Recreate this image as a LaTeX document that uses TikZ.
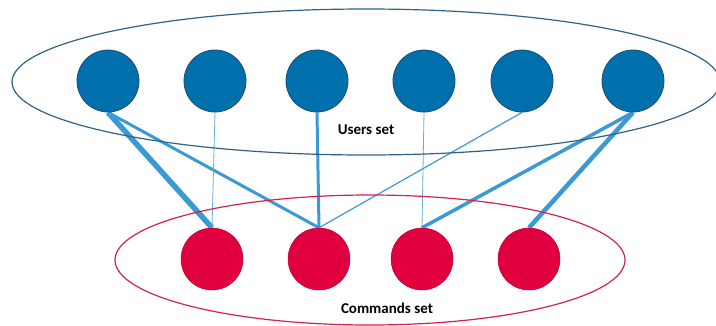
\documentclass[tikz,border=0pt]{standalone}
\usepackage{fontspec}
\setmainfont{Carlito}
\usetikzlibrary{backgrounds}
\definecolor{userblue}{HTML}{0070AC}
\definecolor{userrim}{HTML}{1F4E6E}
\definecolor{cmdred}{HTML}{E0003F}
\definecolor{linkblue}{HTML}{3B9AD6}
\definecolor{setline}{HTML}{2E6288}
\definecolor{setred}{HTML}{D2234E}

\begin{document}
\begin{tikzpicture}[
    x=1pt, y=-1pt,
    user/.style={circle, fill=userblue, draw=userrim, line width=0.8pt, minimum size=62pt, inner sep=0pt},
    cmd/.style={circle, fill=cmdred, draw=cmdred!85!black, line width=0.5pt, minimum size=62pt, inner sep=0pt},
    link/.style={draw=linkblue, line width=#1},
    label/.style={font=\bfseries\fontsize{15}{17}\selectfont}
]
    \useasboundingbox (0,0) rectangle (716,325);

    % Sets
    \draw[setline, line width=1.2pt] (366,82) ellipse (354 and 73);
    \draw[setred, line width=1.2pt] (370,260) ellipse (255 and 65);
    \node[label] (users) at (366,130) {Users set};
    \node[label] (commands) at (387,308) {Commands set};

    % Users
    \foreach \x [count=\i] in {108,215,317,424,522,633} {
        \node[user] (usr\i) at (\x,81) {};
    }
    % Commands
    \foreach \x [count=\i] in {212,319,422,529} {
        \node[cmd] (cmd\i) at (\x,259) {};
    }

    % Links
    \begin{scope}[on background layer]
    \draw[link=5.5pt] (usr1.south) -- (cmd1.north);
    \draw[link=3pt] (usr1.south) -- (cmd2.north);
    \draw[link=0.8pt, linkblue!80] (usr2.south) -- (cmd1.north);
    \draw[link=3pt] (usr3.south) -- (cmd2.north);
    \draw[link=0.8pt, linkblue!80] (usr4.south) -- (cmd3.north);
    \draw[link=1.2pt] (usr5.south) -- (cmd2.north);
    \draw[link=3.5pt] (usr6.south) -- (cmd3.north);
    \draw[link=4.5pt] (usr6.south) -- (cmd4.north);
    \end{scope}
\end{tikzpicture}
\end{document}
